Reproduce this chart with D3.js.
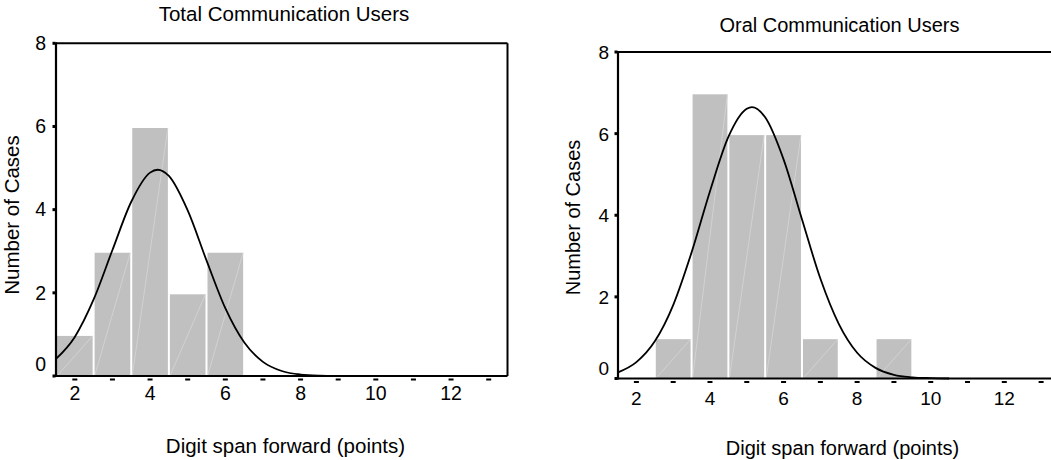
<!DOCTYPE html>
<html>
<head>
<meta charset="utf-8">
<script src="https://cdn.jsdelivr.net/npm/d3@7"></script>
<style>
  html, body { margin: 0; padding: 0; background: #fff; }
  svg { display: block; }
  text { font-family: Arial, "Liberation Sans", sans-serif; fill: #000; }
</style>
</head>
<body>
<svg id="chart" width="1051" height="460"></svg>
<script>
// ---- data ----
const xTickLabels = [2, 4, 6, 8, 10, 12];
const xMinorTicks = [2, 3, 4, 5, 6, 7, 8, 9, 10, 11, 12, 13];
const yTickLabels = [0, 2, 4, 6, 8];

const totalTitle = "Total Communication Users";
const totalBins = [2, 3, 4, 5, 6];
const totalCounts = [1, 3, 6, 2, 3];
const totalCurveX = [1.5, 2, 2.5, 3, 3.5, 4, 4.2, 4.5, 5, 5.5, 6, 6.5, 7, 7.5, 8, 8.5, 9];
const totalCurveY = [0.41, 0.94, 1.84, 3.03, 4.19, 4.89, 4.96, 4.81, 3.98, 2.78, 1.63, 0.81, 0.34, 0.12, 0.035, 0.009, 0.002];

const oralTitle = "Oral Communication Users";
const oralBins = [3, 4, 5, 6, 7, 9];
const oralCounts = [1, 7, 6, 6, 1, 1];
const oralCurveX = [1.5, 2, 2.5, 3, 3.5, 4, 4.5, 5, 5.14, 5.5, 6, 6.5, 7, 7.5, 8, 8.5, 9, 9.5, 10, 10.5];
const oralCurveY = [0.15, 0.40, 0.91, 1.80, 3.09, 4.59, 5.92, 6.61, 6.65, 6.40, 5.37, 3.90, 2.45, 1.34, 0.63, 0.26, 0.09, 0.03, 0.01, 0];

const xAxisTitle = "Digit span forward (points)";
const yAxisTitle = "Number of Cases";

// ---- drawing ----
const svg = d3.select("#chart");

function drawPanel(cfg) {
  const g = svg.append("g");
  const x = d3.scaleLinear().domain([1.5, 13.5]).range([cfg.left, cfg.right]);
  const y = d3.scaleLinear().domain([0, 8]).range([cfg.bottom, cfg.top]);

  // bars
  const bars = cfg.bins.map((b, i) => ({ b, c: cfg.counts[i] }));
  g.selectAll("rect.bar").data(bars).join("rect")
    .attr("class", "bar")
    .attr("x", d => x(d.b - 0.5) + 1)
    .attr("width", d => x(d.b + 0.5) - x(d.b - 0.5) - 2)
    .attr("y", d => y(d.c) + 1.5)
    .attr("height", d => y(0) - y(d.c) - 1.5)
    .attr("fill", "#c0c0c0");
  // faint diagonal seams inside bars
  g.selectAll("line.seam").data(bars).join("line")
    .attr("class", "seam")
    .attr("x1", d => x(d.b - 0.5) + 1)
    .attr("y1", y(0))
    .attr("x2", d => x(d.b + 0.5) - 1)
    .attr("y2", d => y(d.c) + 1.5)
    .attr("stroke", "#d6d6d6")
    .attr("stroke-width", 0.8);

  // frame
  g.append("line").attr("x1", x(1.5)).attr("x2", x(13.5)).attr("y1", y(8)).attr("y2", y(8))
    .attr("stroke", "#000").attr("stroke-width", 2);
  g.append("line").attr("x1", x(13.5)).attr("x2", x(13.5)).attr("y1", y(8)).attr("y2", y(0))
    .attr("stroke", "#000").attr("stroke-width", 2);
  g.append("line").attr("x1", x(1.5)).attr("x2", x(1.5)).attr("y1", y(8) - 1).attr("y2", y(0) + 1)
    .attr("stroke", "#000").attr("stroke-width", 2.2);
  g.append("line").attr("x1", x(1.5) - 1).attr("x2", x(13.5)).attr("y1", y(0)).attr("y2", y(0))
    .attr("stroke", "#000").attr("stroke-width", 2.2);

  // x minor tick dashes
  g.selectAll("rect.xt").data(xMinorTicks).join("rect")
    .attr("class", "xt")
    .attr("x", d => x(d) - 2.5).attr("width", 5)
    .attr("y", y(0) + 2.5).attr("height", 2)
    .attr("fill", "#000");
  // y tick marks
  g.selectAll("rect.yt").data(yTickLabels).join("rect")
    .attr("class", "yt")
    .attr("x", x(1.5) - 3.5).attr("width", 3)
    .attr("y", d => y(d) - 1.5).attr("height", 3)
    .attr("fill", "#000");

  // x tick labels
  g.selectAll("text.xl").data(xTickLabels).join("text")
    .attr("class", "xl")
    .attr("x", d => x(d)).attr("y", cfg.xLabelBase)
    .attr("text-anchor", "middle")
    .style("font-size", cfg.tickSize + "px")
    .text(d => d);
  // y tick labels
  g.selectAll("text.yl").data(yTickLabels).join("text")
    .attr("class", "yl")
    .attr("x", x(1.5) - cfg.yLabelGap)
    .attr("y", d => d === 0 ? y(d) + cfg.zeroShift : y(d) + cfg.yLabelDy)
    .attr("text-anchor", "end")
    .style("font-size", cfg.tickSize + "px")
    .text(d => d);

  // normal curve
  const pts = cfg.curveX.map((v, i) => [v, cfg.curveY[i]]);
  g.append("path").datum(pts)
    .attr("d", d3.line().x(d => x(d[0])).y(d => y(d[1])).curve(d3.curveMonotoneX))
    .attr("fill", "none").attr("stroke", "#000").attr("stroke-width", 1.8);

  // titles
  g.append("text").attr("x", cfg.titleX).attr("y", cfg.titleY)
    .attr("text-anchor", "middle").style("font-size", cfg.textSize + "px").text(cfg.title);
  g.append("text").attr("x", cfg.xTitleX).attr("y", cfg.xTitleY)
    .attr("text-anchor", "middle").style("font-size", cfg.textSize + "px").text(xAxisTitle);
  g.append("text")
    .attr("transform", `translate(${cfg.yTitleX},${cfg.yTitleY}) rotate(-90)`)
    .attr("text-anchor", "middle").style("font-size", cfg.textSize + "px").text(yAxisTitle);
}

drawPanel({
  title: totalTitle, bins: totalBins, counts: totalCounts,
  curveX: totalCurveX, curveY: totalCurveY,
  left: 56, right: 507.5, top: 43.3, bottom: 376,
  xLabelBase: 400, yLabelGap: 10, yLabelDy: 6.8, zeroShift: -5,
  tickSize: 19.5, textSize: 20.5,
  titleX: 284, titleY: 21, xTitleX: 285.5, xTitleY: 453, yTitleX: 18.5, yTitleY: 215
});
drawPanel({
  title: oralTitle, bins: oralBins, counts: oralCounts,
  curveX: oralCurveX, curveY: oralCurveY,
  left: 618, right: 1059.5, top: 52, bottom: 378.5,
  xLabelBase: 404.5, yLabelGap: 9, yLabelDy: 7, zeroShift: -3.5,
  tickSize: 19, textSize: 20,
  titleX: 839.5, titleY: 32.3, xTitleX: 842.5, xTitleY: 455, yTitleX: 580, yTitleY: 217.5
});
</script>
</body>
</html>
